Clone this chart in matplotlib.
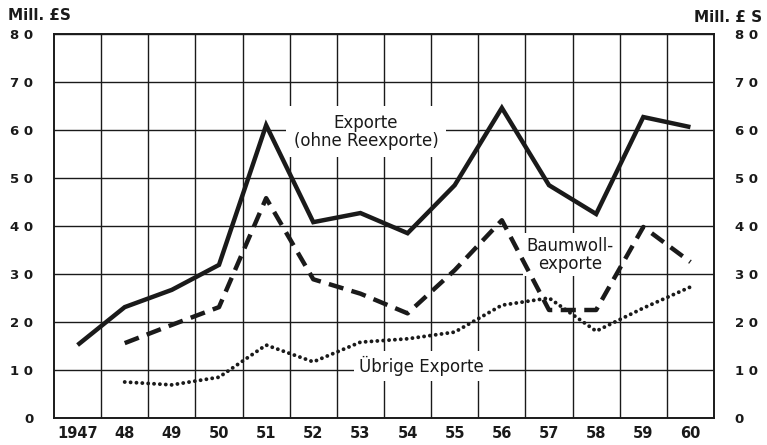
import matplotlib
matplotlib.use("Agg")
import matplotlib.pyplot as plt
import numpy as np

years = ["1947", "48", "49", "50", "51", "52", "53", "54", "55", "56", "57", "58", "59", "60"]
exporte = [15.2, 23.1, 26.7, 31.9, 61.0, 40.8, 42.7, 38.5, 48.5, 64.6, 48.5, 42.5, 62.7, 60.6]
baumwoll_years = years[1:]
baumwoll = [15.6, 19.4, 23.1, 45.8, 28.9, 25.9, 21.8, 30.8, 41.2, 22.5, 22.5, 39.8, 32.5]
uebrige_years = years[1:]
uebrige = [7.5, 6.9, 8.5, 15.2, 11.7, 15.8, 16.5, 17.9, 23.5, 25.0, 18.1, 22.9, 27.3]
y_ticks = [0, 10, 20, 30, 40, 50, 60, 70, 80]
y_labels = ["0", "1 0", "2 0", "3 0", "4 0", "5 0", "6 0", "7 0", "8 0"]

plt.rcParams['font.family'] = ['DejaVu Sans']

fig = plt.figure(figsize=(7.67, 4.45), dpi=100)
ax = fig.add_axes([54/767, 27/445, 660/767, 384/445])

xpos = {y: i for i, y in enumerate(years)}
x_all = [xpos[y] for y in years]

ax.plot([xpos[y] for y in years], exporte, color="#1a1a1a", lw=3.2,
        solid_joinstyle="miter", solid_capstyle="butt", zorder=5)
ax.plot([xpos[y] for y in baumwoll_years], baumwoll, color="#1a1a1a", lw=3.2,
        dashes=(3.4, 1.9), dash_capstyle="butt", zorder=5)
ax.plot([xpos[y] for y in uebrige_years], uebrige, color="#1a1a1a", lw=2.8,
        dashes=(0.01, 1.5), dash_capstyle="round", zorder=5)

ax.set_xlim(-0.5, len(years) - 0.5)
ax.set_ylim(0, 80)

ax.set_xticks(x_all)
ax.set_xticklabels(years, fontsize=10.5, fontweight="bold", color="#1a1a1a")
ax.set_xticks(np.arange(0.5, len(years) - 0.5, 1.0), minor=True)
ax.set_yticks(y_ticks)
ax.set_yticklabels(y_labels, fontsize=9.5, fontweight="bold", color="#1a1a1a")

ax.tick_params(axis="x", which="both", length=0, pad=6)
ax.tick_params(axis="y", which="both", length=0, pad=15,
               labelleft=True, labelright=True)
ax.grid(False)
ax.grid(True, axis="x", which="minor", color="#1a1a1a", lw=1.0)
ax.grid(True, axis="y", which="major", color="#1a1a1a", lw=1.0)
ax.set_axisbelow(True)
for s in ax.spines.values():
    s.set_linewidth(1.4)
    s.set_color("#1a1a1a")

ax.text(xpos["53"] + 0.12, 59.6, "Exporte\n(ohne Reexporte)", ha="center", va="center",
        fontsize=12, linespacing=1.0, color="#1a1a1a", zorder=4,
        bbox=dict(facecolor="white", edgecolor="none", boxstyle="square,pad=0.45"))
ax.text(xpos["57"] + 0.45, 34.0, "Baumwoll-\nexporte", ha="center", va="center",
        fontsize=12, linespacing=1.0, color="#1a1a1a", zorder=4,
        bbox=dict(facecolor="white", edgecolor="none", boxstyle="square,pad=0.2"))
ax.text(xpos["54"] + 0.3, 10.8, "Übrige Exporte", ha="center", va="center",
        fontsize=12, color="#1a1a1a", zorder=4,
        bbox=dict(facecolor="white", edgecolor="none", boxstyle="square,pad=0.3"))

fig.text(8/767, 1 - 16/445, "Mill. £S", ha="left", va="center",
         fontsize=11, fontweight="bold", color="#1a1a1a")
fig.text(762/767, 1 - 17/445, "Mill. £ S", ha="right", va="center",
         fontsize=11, fontweight="bold", color="#1a1a1a")

fig.savefig("out.png", dpi=100, facecolor="white")
